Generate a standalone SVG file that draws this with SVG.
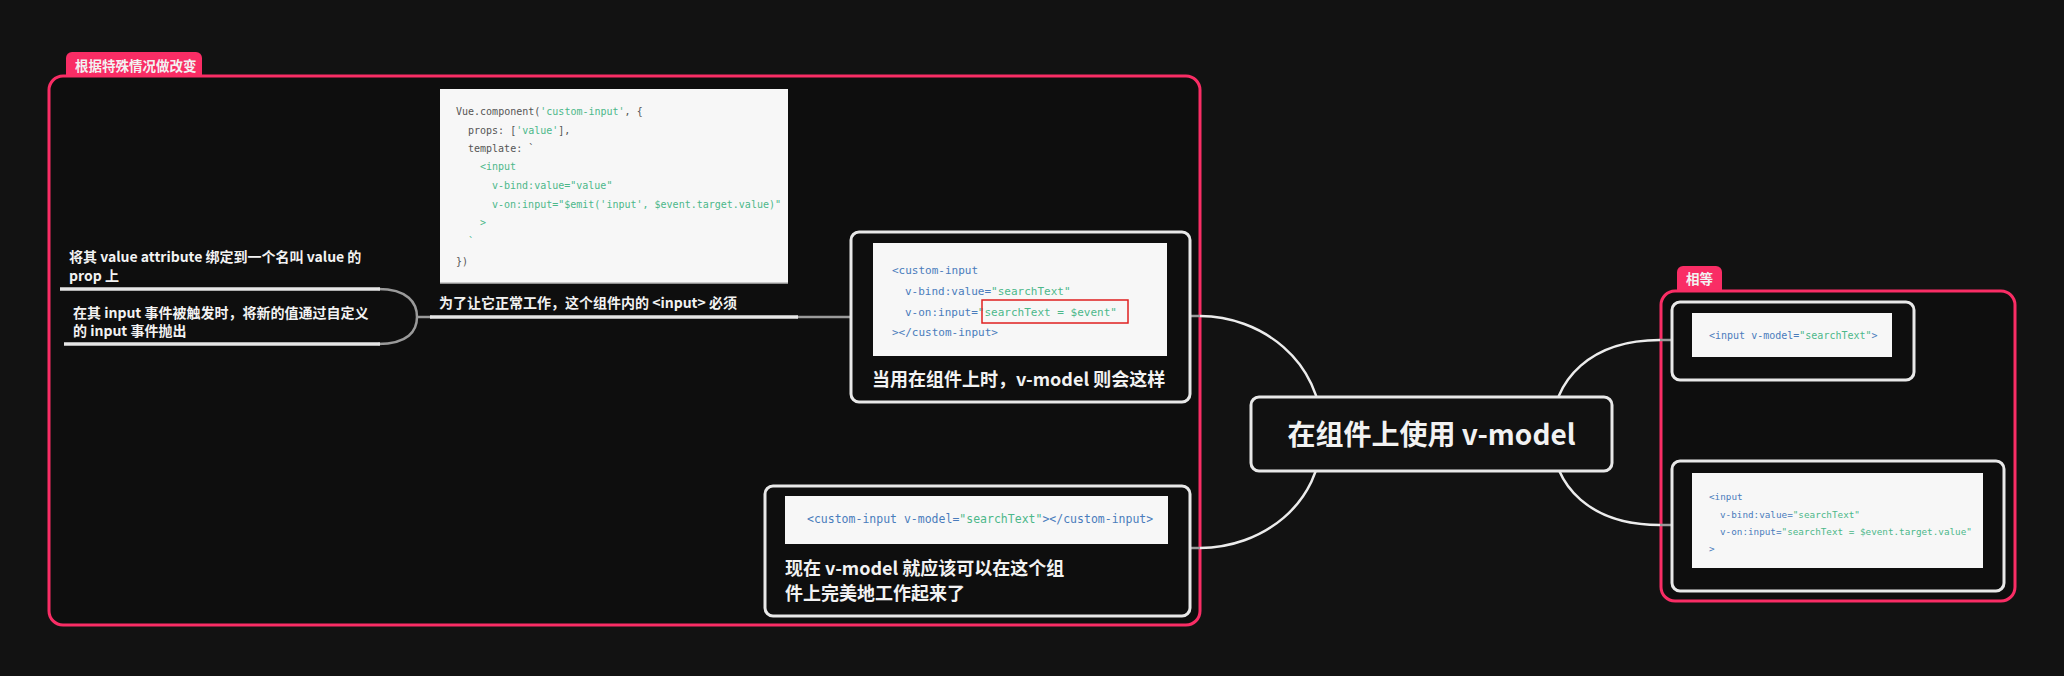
<svg xmlns="http://www.w3.org/2000/svg" width="2064" height="676" viewBox="0 0 2064 676">
<style>
.lbl{font-family:"Noto Sans CJK SC","Noto Sans",sans-serif;font-weight:700;fill:#f2f2f2;dominant-baseline:central}
.code{font-family:"DejaVu Sans Mono","Liberation Mono",monospace;dominant-baseline:central}
.dk{fill:#555}
.gr{fill:#4cb88a}
.bl{fill:#4a7cbc}
.node{fill:#0e0e0e;stroke:#e8e8e8;stroke-width:3}
.img{fill:#f7f7f7}
.frame{fill:#0e0e0e;stroke:#f92d65;stroke-width:3}
.tab{fill:#f92d65}
.conn{fill:none;stroke:#ececec;stroke-width:2.5}
.gconn{fill:none;stroke:#9a9a9a;stroke-width:2.5}
.uline{stroke:#e6e6e6;stroke-width:3.5}
</style>
<rect width="2064" height="676" fill="#121212"/>

<g id="frame-left">
<path class="tab" d="M66 76 V58 a6 6 0 0 1 6 -6 H196 a6 6 0 0 1 6 6 V76 Z"/>
<rect class="frame" x="49" y="76" width="1151" height="549" rx="14"/>
<text class="lbl" x="75" y="65" font-size="13.5">根据特殊情况做改变</text>
</g>

<g id="frame-right">
<path class="tab" d="M1677 291 V272 a6 6 0 0 1 6 -6 H1716 a6 6 0 0 1 6 6 V291 Z"/>
<rect class="frame" x="1661" y="291" width="354" height="310" rx="14"/>
<text class="lbl" x="1686" y="278" font-size="13.5">相等</text>
</g>

<g id="connectors">
<path class="gconn" d="M378 289 C408 289 417 303 417 317 C417 331 408 344 378 344"/>
<path class="gconn" d="M417 317 H432"/>
<path class="gconn" d="M796 317 H852"/>
<path class="conn" d="M1322 433 C1322 360 1260 316 1200 316"/>
<path class="gconn" d="M1188 316 H1200"/>
<path class="conn" d="M1322 433 C1322 506 1260 548 1200 548"/>
<path class="gconn" d="M1188 548 H1200"/>
<path class="conn" d="M1552 433 C1552 378 1592 340 1660 340"/>
<path class="gconn" d="M1660 340 H1673"/>
<path class="conn" d="M1552 433 C1552 488 1592 525 1660 525"/>
<path class="gconn" d="M1660 525 H1673"/>
</g>

<g id="node-value-prop">
<line class="uline" x1="60" y1="289" x2="380" y2="289"/>
<text class="lbl" x="69" y="256" font-size="14">将其 value attribute 绑定到一个名叫 value 的</text>
<text class="lbl" x="69" y="275" font-size="14">prop 上</text>
</g>

<g id="node-input-event">
<line class="uline" x1="64" y1="344" x2="380" y2="344"/>
<text class="lbl" x="73" y="312" font-size="14">在其 input 事件被触发时，将新的值通过自定义</text>
<text class="lbl" x="73" y="330" font-size="14">的 input 事件抛出</text>
</g>

<g id="node-component">
<rect class="img" x="440" y="89" width="348" height="194"/>
<line x1="440" y1="283" x2="788" y2="283" stroke="#bbb" stroke-width="1.5"/>
<text class="code" font-size="10" x="456" y="111"><tspan class="dk">Vue.component(</tspan><tspan class="gr">'custom-input'</tspan><tspan class="dk">, {</tspan></text>
<text class="code" font-size="10" x="468" y="129.5"><tspan class="dk">props: [</tspan><tspan class="gr">'value'</tspan><tspan class="dk">],</tspan></text>
<text class="code dk" font-size="10" x="468" y="148">template: `</text>
<text class="code gr" font-size="10" x="480" y="166.5">&lt;input</text>
<text class="code gr" font-size="10" x="492" y="185">v-bind:value="value"</text>
<text class="code gr" font-size="10" x="492" y="204">v-on:input="$emit('input', $event.target.value)"</text>
<text class="code gr" font-size="10" x="480" y="222.5">&gt;</text>
<text class="code gr" font-size="10" x="468" y="241">`</text>
<text class="code dk" font-size="10" x="456" y="261">})</text>
<line class="uline" x1="430" y1="317" x2="798" y2="317"/>
<text class="lbl" x="439" y="302" font-size="14">为了让它正常工作，这个组件内的 &lt;input&gt; 必须</text>
</g>

<g id="node-expanded">
<rect class="node" x="851" y="232" width="339" height="170" rx="8"/>
<rect class="img" x="873" y="243" width="294" height="113"/>
<text class="code bl" font-size="11" x="892" y="270">&lt;custom-input</text>
<text class="code" font-size="11" x="905" y="291"><tspan class="bl">v-bind:value=</tspan><tspan class="gr">"searchText"</tspan></text>
<text class="code" font-size="11" x="905" y="312"><tspan class="bl">v-on:input=</tspan><tspan class="gr">"searchText = $event"</tspan></text>
<text class="code bl" font-size="11" x="892" y="332">&gt;&lt;/custom-input&gt;</text>
<rect x="982" y="300" width="146" height="23" fill="none" stroke="#e02020" stroke-width="1.5"/>
<text class="lbl" x="872" y="378" font-size="18">当用在组件上时，v-model 则会这样</text>
</g>

<g id="node-works">
<rect class="node" x="765" y="486" width="425" height="130" rx="8"/>
<rect class="img" x="785" y="496" width="383" height="48"/>
<text class="code" font-size="11.5" x="807" y="519"><tspan class="bl">&lt;custom-input v-model=</tspan><tspan class="gr">"searchText"</tspan><tspan class="bl">&gt;&lt;/custom-input&gt;</tspan></text>
<text class="lbl" x="785" y="567" font-size="18">现在 v-model 就应该可以在这个组</text>
<text class="lbl" x="785" y="592" font-size="18">件上完美地工作起来了</text>
</g>

<g id="node-center">
<rect class="node" x="1251" y="397" width="361" height="74" rx="8" style="fill:#111"/>
<text class="lbl" x="1431.5" y="433" font-size="28" text-anchor="middle">在组件上使用 v-model</text>
</g>

<g id="node-vmodel">
<rect class="node" x="1672" y="302" width="242" height="78" rx="8"/>
<rect class="img" x="1692" y="313" width="200" height="44"/>
<text class="code" font-size="10" x="1709" y="335"><tspan class="bl">&lt;input v-model=</tspan><tspan class="gr">"searchText"</tspan><tspan class="bl">&gt;</tspan></text>
</g>

<g id="node-bind-on">
<rect class="node" x="1672" y="461" width="332" height="130" rx="8"/>
<rect class="img" x="1692" y="473" width="291" height="95"/>
<text class="code bl" font-size="9.3" x="1709" y="496">&lt;input</text>
<text class="code" font-size="9.3" x="1720" y="513.5"><tspan class="bl">v-bind:value=</tspan><tspan class="gr">"searchText"</tspan></text>
<text class="code" font-size="9.3" x="1720" y="531"><tspan class="bl">v-on:input=</tspan><tspan class="gr">"searchText = $event.target.value"</tspan></text>
<text class="code bl" font-size="9.3" x="1709" y="548">&gt;</text>
</g>
</svg>
